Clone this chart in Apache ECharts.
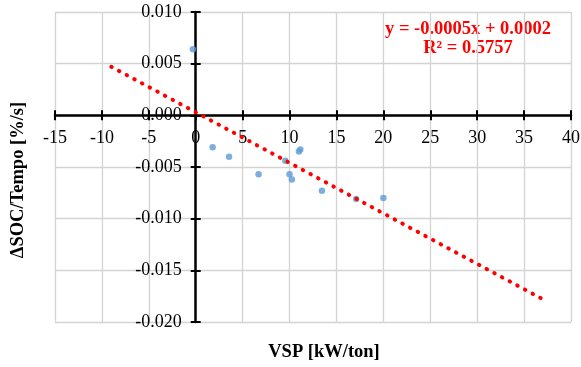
<!DOCTYPE html>
<html>
<head>
<meta charset="utf-8">
<script src="https://cdn.jsdelivr.net/npm/echarts@6/dist/echarts.min.js"></script>
<style>
  html, body { margin: 0; padding: 0; background: #fff; }
  #chart { width: 581px; height: 367px; }
</style>
</head>
<body>
<div id="chart"></div>
<script>
// measured points (VSP, dSOC/time)
var vsp = [-0.3, 1.8, 3.55, 6.7, 9.55, 10.0, 10.25, 11.0, 11.15, 13.45, 17.1, 20.0];
var dsoc = [0.0064, -0.0031, -0.0040, -0.0057, -0.0044, -0.0057, -0.0062, -0.0035, -0.0033, -0.0073, -0.0081, -0.0080];
// trendline ends
var trendX = [-9, 37];
var trendY = [0.0047, -0.0178];
var equationText = 'y = -0.0005x + 0.0002';
var r2Text = 'R² = 0.5757';

var chartDom = document.getElementById('chart');
var myChart = echarts.init(chartDom);
var font = '"Liberation Serif", "Times New Roman", serif';

var points = vsp.map(function (x, i) { return [x, dsoc[i]]; });
var trend = trendX.map(function (x, i) { return [x, trendY[i]]; });

// plot rectangle
var gLeft = 55, gRight = 10, gTop = 12, gBottom = 45;
var plotW = 581 - gLeft - gRight, plotH = 367 - gTop - gBottom;
var xMin = -15, xMax = 40, yMin = -0.02, yMax = 0.01;
// where the zero lines sit inside the plot, so the axes can be moved there
var zeroX = plotW * (0 - xMin) / (xMax - xMin);
var zeroY = plotH * (yMax - 0) / (yMax - yMin);

var xBase = { type: 'value', min: xMin, max: xMax, interval: 5 };
var yBase = { type: 'value', min: yMin, max: yMax, interval: 0.005 };
var axisLineStyle = { color: '#000', width: 2.5 };
var tick = { show: true, length: 5, lineStyle: { color: '#000', width: 2 } };
var grey = { show: true, lineStyle: { color: '#d3d3d3', width: 1.3 } };

var option = {
    animation: false,
    grid: { left: gLeft, right: gRight, top: gTop, bottom: gBottom, containLabel: false, outerBoundsMode: 'none' },
    xAxis: [
        Object.assign({}, xBase, {
            position: 'bottom',
            offset: -(plotH - zeroY),
            axisLine: { show: true, onZero: false, lineStyle: axisLineStyle },
            axisTick: tick,
            axisLabel: { color: '#000', fontFamily: font, fontSize: 18, margin: 14 },
            splitLine: grey
        }),
        Object.assign({}, xBase, {
            position: 'top',
            offset: -zeroY,
            axisLine: { show: false, onZero: false },
            axisTick: tick,
            axisLabel: { show: false },
            splitLine: { show: false }
        })
    ],
    yAxis: [
        Object.assign({}, yBase, {
            position: 'left',
            offset: -zeroX,
            axisLine: { show: true, onZero: false, lineStyle: axisLineStyle },
            axisTick: tick,
            axisLabel: {
                color: '#000', fontFamily: font, fontSize: 18, margin: 14,
                formatter: function (v) { return v.toFixed(3); }
            },
            splitLine: grey
        }),
        Object.assign({}, yBase, {
            position: 'right',
            offset: -(plotW - zeroX),
            axisLine: { show: false, onZero: false },
            axisTick: tick,
            axisLabel: { show: false },
            splitLine: { show: false }
        })
    ],
    graphic: [
        {
            type: 'text', x: 18, y: 180, rotation: Math.PI / 2,
            style: { text: 'ΔSOC/Tempo [%/s]', font: 'bold 18.5px ' + font, fill: '#000', align: 'center', verticalAlign: 'middle' }
        },
        {
            type: 'text', x: 324, y: 352,
            style: { text: 'VSP [kW/ton]', font: 'bold 18.5px ' + font, fill: '#000', align: 'center', verticalAlign: 'middle' }
        },
        {
            type: 'text', x: 468, y: 29,
            style: { text: equationText, font: 'bold 18.5px ' + font, fill: '#ff0000', align: 'center', verticalAlign: 'middle' }
        },
        {
            type: 'text', x: 468, y: 48.5,
            style: { text: r2Text, font: 'bold 18.5px ' + font, fill: '#ff0000', align: 'center', verticalAlign: 'middle' }
        }
    ],
    series: [
        {
            type: 'scatter',
            xAxisIndex: 0, yAxisIndex: 0,
            data: points,
            symbol: 'circle',
            symbolSize: 6.5,
            itemStyle: { color: '#5b9bd5' }
        },
        {
            type: 'line',
            xAxisIndex: 0, yAxisIndex: 0,
            data: trend,
            showSymbol: false,
            silent: true,
            lineStyle: { color: '#ff0000', width: 4, type: [0.5, 8.2], cap: 'round' }
        }
    ]
};

option && myChart.setOption(option);
</script>
</body>
</html>
